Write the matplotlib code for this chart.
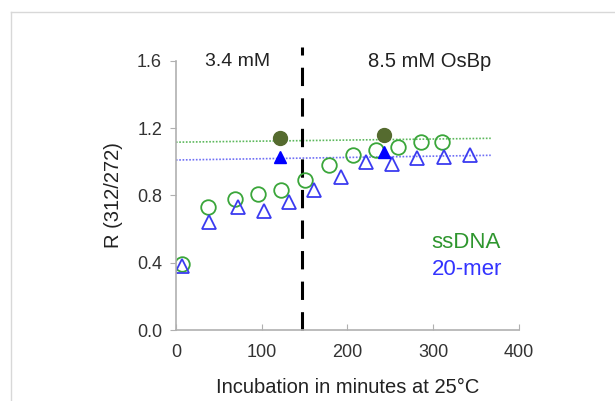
import matplotlib
matplotlib.use("Agg")
import matplotlib.pyplot as plt
from matplotlib.lines import Line2D

plt.rcParams['font.family'] = ['Liberation Sans', 'DejaVu Sans']

# open symbols: time course (minutes) and R(312/272)
ssdna_t = [7, 38, 69, 96, 122, 150, 179, 206, 233, 259, 286, 310]
ssdna_r = [0.39, 0.73, 0.78, 0.81, 0.83, 0.89, 0.98, 1.04, 1.07, 1.09, 1.12, 1.12]
mer_t = [7, 39, 72, 103, 132, 161, 192, 222, 252, 281, 312, 343]
mer_r = [0.38, 0.64, 0.73, 0.71, 0.76, 0.83, 0.91, 1.00, 0.99, 1.02, 1.03, 1.04]

# filled symbols: reference values
ssdna_ref_t = [121, 243]
ssdna_ref_r = [1.14, 1.16]
mer_ref_t = [121, 243]
mer_ref_r = [1.03, 1.06]

# dotted trend lines (start, end)
trend_t = [0, 367]
ssdna_trend = [1.117, 1.140]
mer_trend = [1.011, 1.039]

switch_t = 147

green = '#3aa63a'
blue = '#3b3bf0'

fig = plt.figure(figsize=(6.15, 4.01), dpi=100)
ax = fig.add_axes([0.286, 0.177, 0.558, 0.671])

ax.plot(trend_t, ssdna_trend, ls=(0, (1, 1)), color='#5cb85c', lw=1.2)
ax.plot(trend_t, mer_trend, ls=(0, (1, 1)), color='#6f6ff5', lw=1.2)

ax.plot([switch_t, switch_t], [0, 1.68], color='black', lw=2.2,
        ls=(0, (6, 4)), clip_on=False)

ax.plot(ssdna_t, ssdna_r, 'o', mfc='none', mec=green, ms=10.5, mew=1.3)
ax.plot(mer_t, mer_r, '^', mfc='none', mec=blue, ms=10, mew=1.3)
ax.plot(ssdna_ref_t, ssdna_ref_r, 'o', color='#556b2f', ms=10)
ax.plot(mer_ref_t, mer_ref_r, '^', color='#0000ff', ms=9)

ax.text(72, 1.594, '3.4 mM', ha='center', va='center', fontsize=14, color='#222222')
ax.text(296, 1.594, '8.5 mM OsBp', ha='center', va='center', fontsize=14.5, color='#222222')
ax.text(298, 0.52, 'ssDNA', ha='left', va='center', fontsize=16, color='#2e962e')
ax.text(298, 0.357, '20-mer', ha='left', va='center', fontsize=16, color='#3333ff')

ax.set_xlim(0, 400)
ax.set_ylim(0, 1.6)
ax.set_xticks([0, 100, 200, 300, 400])
ax.set_yticks([0.0, 0.4, 0.8, 1.2, 1.6])
ax.set_yticklabels(['0.0', '0.4', '0.8', '1.2', '1.6'])
for s in ['top', 'right']:
    ax.spines[s].set_visible(False)
for s in ['left', 'bottom']:
    ax.spines[s].set_color('#b0b0b0')
    ax.spines[s].set_linewidth(1.2)
ax.tick_params(axis='y', direction='out', length=4, color='#b0b0b0',
               labelsize=13, labelcolor='#333333', pad=6)
ax.tick_params(axis='x', direction='in', length=4, color='#b0b0b0',
               labelsize=13, labelcolor='#333333', pad=10)
ax.set_ylabel('R (312/272)', fontsize=14.5, color='#222222', labelpad=10)
ax.set_xlabel('Incubation in minutes at 25\u00b0C', fontsize=14.5, color='#222222', labelpad=12)

# outer slide frame
fig.add_artist(Line2D([11/615, 11/615], [0, 1 - 12/401], transform=fig.transFigure, color='#d8d8d8', lw=1))
fig.add_artist(Line2D([11/615, 1], [1 - 12/401, 1 - 12/401], transform=fig.transFigure, color='#d8d8d8', lw=1))

fig.savefig('out.png', dpi=100)
